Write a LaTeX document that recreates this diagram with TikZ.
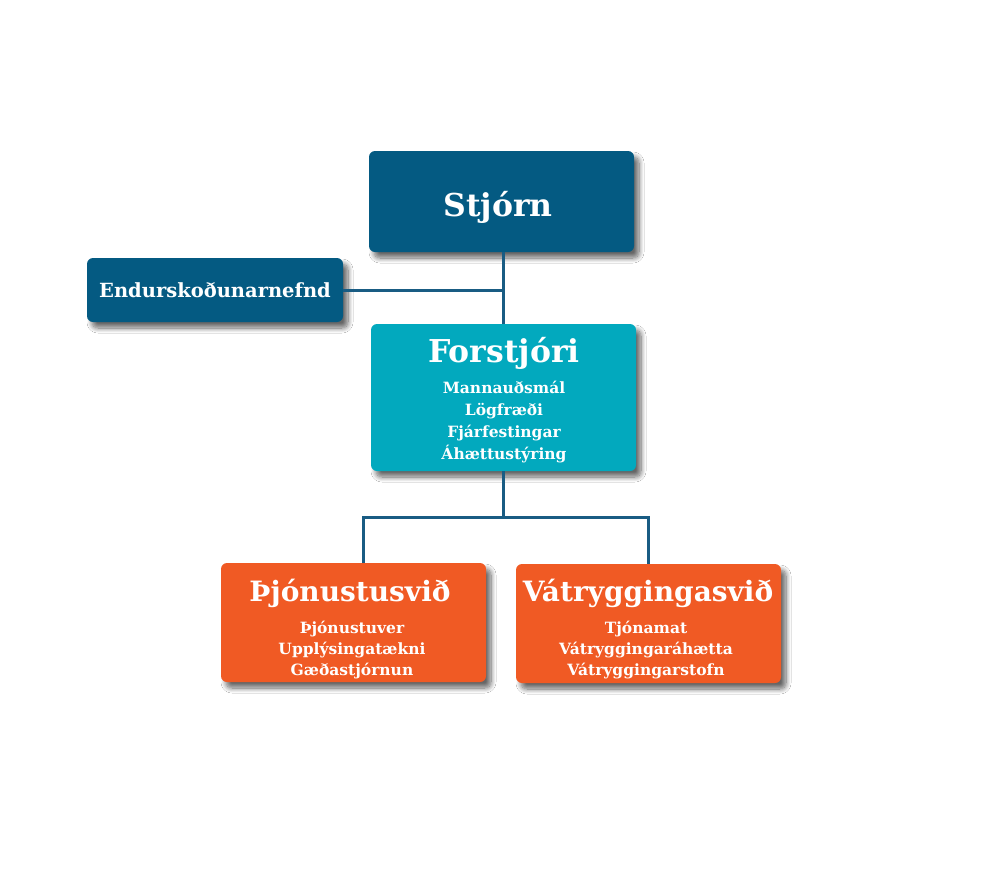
\documentclass[tikz,border=0pt]{standalone}
\usepackage{fontspec}
\setmainfont{DejaVu Serif}
\usetikzlibrary{shadows.blur}
\definecolor{navy}{HTML}{045A82}
\definecolor{teal}{HTML}{02A9BE}
\definecolor{orng}{HTML}{F05A24}
\definecolor{linec}{HTML}{195C83}
\begin{document}
\begin{tikzpicture}[x=1pt,y=-1pt,
  box/.style={rounded corners=6pt, inner sep=0pt, draw=none,
    blur shadow={shadow xshift=5pt, shadow yshift=-6pt, shadow blur steps=10, shadow blur radius=5pt, shadow opacity=60}},
  ttl/.style={text=white, font=\bfseries\fontsize{31.5}{36}\selectfont, anchor=base, inner sep=0pt},
  sttl/.style={text=white, font=\bfseries\fontsize{28}{32}\selectfont, anchor=base, inner sep=0pt},
  itm/.style={text=white, font=\bfseries\fontsize{15.5}{22}\selectfont, anchor=base, inner sep=0pt},
  conn/.style={draw=linec, line width=3pt}]
\fill[white] (0,0) rectangle (1000,889);
\useasboundingbox (0,0) rectangle (1000,889);
% boxes
\node[box, fill=navy, minimum width=265pt, minimum height=101pt] (stjorn) at (501.5,201.5) {};
\node[box, fill=navy, minimum width=256pt, minimum height=64pt] (endur) at (215,290) {};
\node[box, fill=teal, minimum width=265pt, minimum height=147pt] (forst) at (503.5,397.5) {};
\node[box, fill=orng, minimum width=265pt, minimum height=119pt] (thj) at (353.5,622.5) {};
\node[box, fill=orng, minimum width=265pt, minimum height=119pt] (vat) at (648.5,623.5) {};
% connectors
\coordinate (topj) at (503,252);
\coordinate (midj) at (503,290);
\coordinate (botj) at (503,517);
\coordinate (leftj) at (363,517);
\coordinate (rightj) at (648,517);
\draw[conn] (topj) -- (503,324);
\draw[conn] (endur.east) -- (midj);
\draw[conn] (503,471) -- (botj);
\draw[conn] (363,563) -- (leftj) -- (rightj) -- (648,564);
% texts
\node[ttl] (t1) at (498,216) {Stjórn};
\node[text=white, font=\bfseries\fontsize{19.5}{22}\selectfont, anchor=base, inner sep=0pt] (t2) at (215,297) {Endurskoðunarnefnd};
\node[ttl] (t3) at (504,362) {Forstjóri};
\node[itm] (t3a) at (504,393) {Mannauðsmál};
\node[itm] (t3b) at (504,415) {Lögfræði};
\node[itm] (t3c) at (504,437) {Fjárfestingar};
\node[itm] (t3d) at (504,459) {Áhættustýring};
\node[sttl] (t4) at (350,601) {Þjónustusvið};
\node[itm] (t4a) at (352,633) {Þjónustuver};
\node[itm] (t4b) at (352,654) {Upplýsingatækni};
\node[itm] (t4c) at (352,675) {Gæðastjórnun};
\node[sttl] (t5) at (648,601) {Vátryggingasvið};
\node[itm] (t5a) at (646,633) {Tjónamat};
\node[itm] (t5b) at (646,654) {Vátryggingaráhætta};
\node[itm] (t5c) at (646,675) {Vátryggingarstofn};
\end{tikzpicture}
\end{document}
